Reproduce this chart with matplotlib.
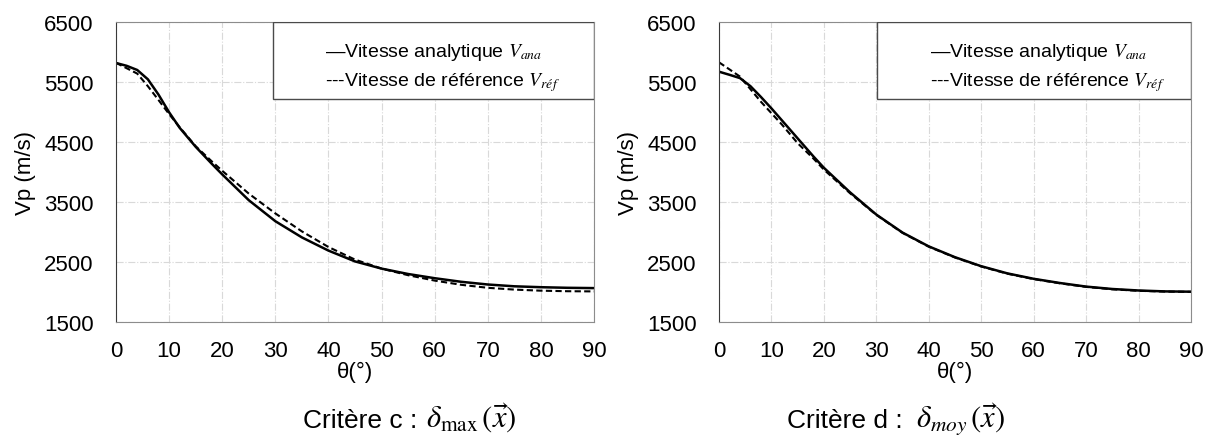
import matplotlib
matplotlib.use('Agg')
import matplotlib.pyplot as plt
from matplotlib.patches import Rectangle

plt.rcParams['font.family'] = ['Liberation Sans', 'DejaVu Sans']
plt.rcParams['mathtext.fontset'] = 'stix'

# angles (degrees)
theta = [0, 2, 4, 6, 8, 10, 12, 15, 18, 20, 25, 30, 35, 40, 45, 50, 55, 60, 65, 70, 75, 80, 85, 90]

# critere c
vana_c = [5817, 5770, 5700, 5545, 5290, 4995, 4735, 4420, 4140, 3960, 3530, 3180, 2910, 2690, 2510, 2390, 2300, 2230, 2170, 2125, 2095, 2080, 2070, 2065]
vref_c = [5820, 5730, 5640, 5430, 5200, 4965, 4745, 4430, 4180, 4020, 3640, 3310, 3010, 2750, 2540, 2390, 2280, 2190, 2120, 2070, 2040, 2022, 2013, 2010]

# critere d
vana_d = [5672, 5620, 5565, 5430, 5250, 5060, 4860, 4560, 4260, 4070, 3660, 3290, 2990, 2760, 2580, 2430, 2310, 2220, 2150, 2090, 2050, 2025, 2010, 2005]
vref_d = [5828, 5710, 5590, 5380, 5170, 4980, 4790, 4480, 4225, 4040, 3645, 3285, 2985, 2755, 2575, 2425, 2305, 2215, 2145, 2085, 2045, 2020, 2007, 2002]

yticks = [1500, 2500, 3500, 4500, 5500, 6500]
xticks = [0, 10, 20, 30, 40, 50, 60, 70, 80, 90]

fig = plt.figure(figsize=(12.13, 4.39), dpi=100)

def draw(ax, vana, vref, box_x, text_x):
    ax.plot(theta, vana, color='black', lw=1.8, solid_capstyle='butt')
    ax.plot(theta, vref, color='black', lw=1.5, dashes=(3, 1.6))
    ax.set_xlim(0, 90)
    ax.set_ylim(1500, 6500)
    ax.set_xticks(xticks)
    ax.set_yticks(yticks)
    ax.tick_params(length=0, labelsize=16)
    ax.tick_params(axis='y', pad=16)
    ax.tick_params(axis='x', pad=13)
    ax.grid(True, color='#d9d9d9', linestyle='-.', linewidth=0.8)
    for s in ['top', 'right', 'bottom']:
        ax.spines[s].set_color('#8c8c8c')
    ax.spines['left'].set_color('#3a3a3a')
    ax.set_xlabel('θ(°)', fontsize=16, labelpad=0)
    ax.set_ylabel('Vp (m/s)', fontsize=16, labelpad=6)
    # legend box drawn flush to top-right corner
    ax.add_patch(Rectangle((box_x, 0.743), 1 - box_x, 0.257, transform=ax.transAxes,
                           facecolor='white', edgecolor='#4a4a4a', lw=1.0, zorder=5))
    ax.text(text_x, 0.903, '—Vitesse analytique $V_{ana}$', transform=ax.transAxes,
            fontsize=14, va='center', zorder=6)
    ax.text(text_x, 0.803, '---Vitesse de référence $V_{réf}$', transform=ax.transAxes,
            fontsize=14, va='center', zorder=6)

ax1 = fig.add_axes([116 / 1213, 1 - 323 / 439, 478 / 1213, 300 / 439])
draw(ax1, vana_c, vref_c, 0.328, 0.437)

ax2 = fig.add_axes([719 / 1213, 1 - 323 / 439, 472 / 1213, 300 / 439])
draw(ax2, vana_d, vref_d, 0.335, 0.447)

# captions under each chart
base = 1 - 428 / 439
fig.text(417 / 1213, base, 'Critère c :', fontsize=19, ha='right', va='baseline')
fig.text(426 / 1213, base, r'$\delta_{\max}\,(\vec{x})$', fontsize=22, ha='left', va='baseline')
fig.text(903 / 1213, base, 'Critère d :', fontsize=19, ha='right', va='baseline')
fig.text(916 / 1213, base, r'$\delta_{moy}\,(\vec{x})$', fontsize=22, ha='left', va='baseline')

fig.savefig('out.png', dpi=100)
